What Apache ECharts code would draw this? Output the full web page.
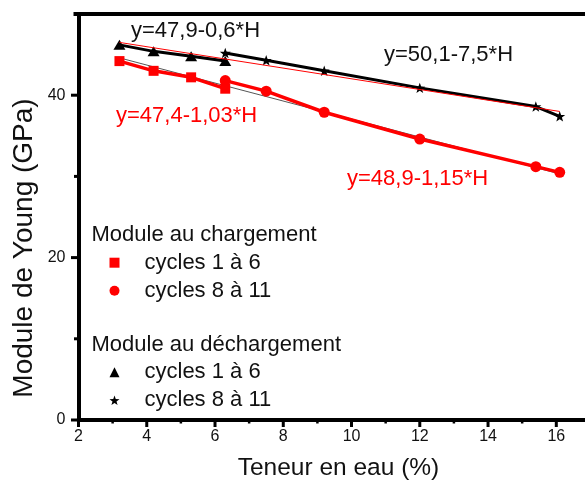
<!DOCTYPE html>
<html><head><meta charset="utf-8">
<script src="https://cdn.jsdelivr.net/npm/echarts@6/dist/echarts.min.js"></script>
<style>html,body{margin:0;padding:0;background:#fff}#c{width:585px;height:488px}</style>
</head><body><div id="c"></div>
<script>
// ---- data ----
const xMajorTicks = [2, 4, 6, 8, 10, 12, 14, 16];
const xMinorTicks = [3, 5, 7, 9, 11, 13, 15];
const yMajorTicks = [0, 20, 40];
const yMinorTicks = [10, 30];

const chargeCycles1to6 = [[3.2, 44.2], [4.2, 43.0], [5.3, 42.2], [6.3, 40.8]];
const chargeCycles8to11 = [[6.3, 41.8], [7.5, 40.5], [9.2, 37.9], [12.0, 34.6], [15.4, 31.2], [16.1, 30.5]];
const dechargeCycles1to6 = [[3.2, 46.2], [4.2, 45.4], [5.3, 44.8], [6.3, 44.2]];
const dechargeCycles8to11 = [[6.3, 45.2], [7.5, 44.3], [9.2, 43.0], [12.0, 40.9], [15.4, 38.6], [16.1, 37.4]];
const chargeFit = [[3.2, 44.6], [16.1, 30.3]];
const dechargeFit = [[3.2, 46.5], [16.1, 38.0]];

const legendLabels = {
  ch16: 'cycles 1 à 6', ch811: 'cycles 8 à 11',
  de16: 'cycles 1 à 6', de811: 'cycles 8 à 11'
};
const groupTitles = ['Module au chargement', 'Module au déchargement'];
const equations = ['y=47,9-0,6*H', 'y=50,1-7,5*H', 'y=47,4-1,03*H', 'y=48,9-1,15*H'];
const xTitle = 'Teneur en eau (%)';
const yTitle = 'Module de Young (GPa)';

// ---- chart ----
const FONT = 'Liberation Sans, Arial, sans-serif';
const RED = '#ff0000';
const BLACK = '#000000';
const TXT = '#111111';
const STAR = 'path://M0,-10 L2.35,-3.24 L9.51,-3.09 L3.8,1.24 L5.88,8.09 L0,4 L-5.88,8.09 L-3.8,1.24 L-9.51,-3.09 L-2.35,-3.24 Z';

const chart = echarts.init(document.getElementById('c'), null, {renderer: 'canvas'});
const XMIN = 2, XMAX = 16.841, YMIN = 0, YMAX = 50;

const lineSeries = (name, data, color, symbol, size, width, z) => ({
  name, type: 'line', data, xAxisIndex: 0, yAxisIndex: 0,
  symbol, symbolSize: size, showSymbol: symbol !== 'none',
  symbolKeepAspect: true,
  itemStyle: {color, borderWidth: 0},
  lineStyle: {color, width},
  z, animation: false, silent: true
});

const legendCommon = {
  orient: 'vertical', left: 109.5, padding: 0, itemWidth: 10, itemHeight: 10, itemGap: 6,
  selectedMode: false,
  formatter: n => legendLabels[n],
  textStyle: {fontFamily: FONT, fontSize: 22, color: TXT, lineHeight: 22, padding: [0, 0, 0, 20]}
};

const textEl = (text, x, y, color, size, align, rotation) => ({
  type: 'text', x, y, rotation: rotation || 0,
  style: {text, fill: color, font: size + 'px ' + FONT, textAlign: align || 'left', textVerticalAlign: 'middle'}
});

chart.setOption({
  animation: false,
  grid: {left: 78.5, top: 14, right: -3, bottom: 68},
  xAxis: [
    {type: 'value', position: 'bottom', min: XMIN, max: XMAX, interval: 2,
     axisLine: {show: true, onZero: false, lineStyle: {color: BLACK, width: 4}},
     axisTick: {show: false},
     axisLabel: {fontFamily: FONT, fontSize: 16, color: TXT, margin: 9, showMaxLabel: false,
                 formatter: v => xMajorTicks.indexOf(v) >= 0 ? String(v) : ''},
     splitLine: {show: false}},
    {type: 'value', position: 'top', min: XMIN, max: XMAX,
     axisLine: {show: true, onZero: false, lineStyle: {color: BLACK, width: 4}},
     axisTick: {show: false}, axisLabel: {show: false}, splitLine: {show: false}}
  ],
  yAxis: [
    {type: 'value', position: 'left', min: YMIN, max: YMAX, interval: 20,
     axisLine: {show: true, onZero: false, lineStyle: {color: BLACK, width: 4}},
     axisTick: {show: false},
     axisLabel: {fontFamily: FONT, fontSize: 16, color: TXT, margin: 13,
                 formatter: v => yMajorTicks.indexOf(v) >= 0 ? String(v) : ''},
     splitLine: {show: false}}
  ],
  legend: [
    Object.assign({}, legendCommon, {top: 251.7, data: [{name: 'ch16', icon: 'rect'}, {name: 'ch811', icon: 'circle'}]}),
    Object.assign({}, legendCommon, {top: 361.3, data: [{name: 'de16', icon: 'triangle'}, {name: 'de811', icon: STAR}]})
  ],
  series: [
    lineSeries('chFit', chargeFit, '#555555', 'none', 0, 1, 2),
    lineSeries('ch16', chargeCycles1to6, RED, 'rect', 10, 3.5, 3),
    lineSeries('ch811', chargeCycles8to11, RED, 'circle', 11, 3.5, 3),
    lineSeries('de16', dechargeCycles1to6, BLACK, 'triangle', [12, 10], 3, 4),
    lineSeries('de811', dechargeCycles8to11, BLACK, STAR, 11, 3, 4),
    lineSeries('deFit', dechargeFit, RED, 'none', 0, 1, 5)
  ]
});

// axis ticks placed through the chart's own scales
const px = v => chart.convertToPixel({xAxisIndex: 0}, v);
const py = v => chart.convertToPixel({yAxisIndex: 0}, v);
const axisY = py(YMIN), axisX = px(XMIN);
const tickLine = (x1, y1, x2, y2, w) => ({
  type: 'line', silent: true, z: 10,
  shape: {x1, y1, x2, y2}, style: {stroke: BLACK, lineWidth: w}
});
const ticks = [];
xMajorTicks.forEach(v => ticks.push(tickLine(px(v), axisY, px(v), axisY + 7, 3)));
xMinorTicks.forEach(v => ticks.push(tickLine(px(v), axisY, px(v), axisY + 3.5, 2.5)));
yMajorTicks.forEach(v => ticks.push(tickLine(axisX, py(v), axisX - 7.5, py(v), 3)));
yMinorTicks.forEach(v => ticks.push(tickLine(axisX, py(v), axisX - 4.5, py(v), 3)));
ticks.push(tickLine(axisX, py(YMAX), axisX - 5, py(YMAX), 4));

chart.setOption({
  graphic: [
    textEl(equations[0], 131, 31, TXT, 22),
    textEl(equations[1], 384, 55, TXT, 22),
    textEl(equations[2], 116, 116, RED, 22),
    textEl(equations[3], 347, 178.5, RED, 22),
    textEl(groupTitles[0], 91.5, 235, TXT, 22),
    textEl(groupTitles[1], 91.5, 345, TXT, 22),
    textEl(xTitle, 338.5, 468, TXT, 24.5, 'center'),
    textEl(yTitle, 24, 248, TXT, 28, 'center', Math.PI / 2)
  ].concat(ticks)
});
</script>
</body></html>
